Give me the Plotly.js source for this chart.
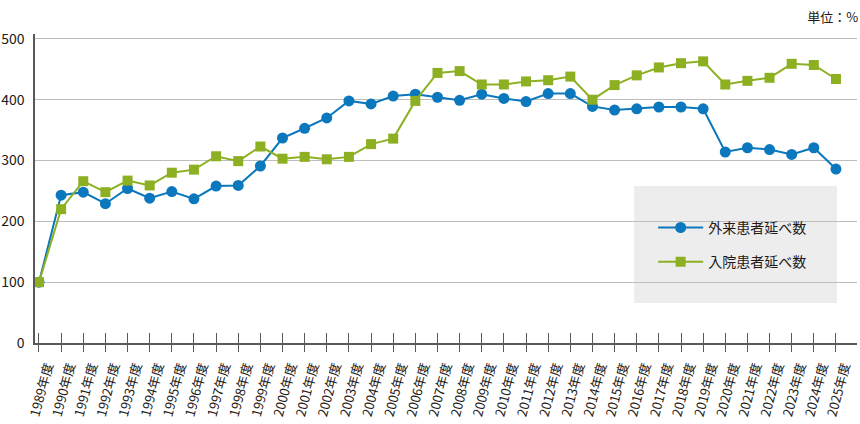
<!DOCTYPE html>
<html>
<head>
<meta charset="utf-8">
<script src="https://cdn.plot.ly/plotly-3.0.1.min.js"></script>
<style>
  html, body { margin: 0; padding: 0; background: #fff; }
  #chart { width: 860px; height: 424px; }
</style>
</head>
<body>
<div id="chart"></div>
<script>
// 年度（1989年度 = 100）
const years = [
  '1989年度', '1990年度', '1991年度', '1992年度', '1993年度', '1994年度',
  '1995年度', '1996年度', '1997年度', '1998年度', '1999年度', '2000年度',
  '2001年度', '2002年度', '2003年度', '2004年度', '2005年度', '2006年度',
  '2007年度', '2008年度', '2009年度', '2010年度', '2011年度', '2012年度',
  '2013年度', '2014年度', '2015年度', '2016年度', '2017年度', '2018年度',
  '2019年度', '2020年度', '2021年度', '2022年度', '2023年度', '2024年度',
  '2025年度',
];

// 外来患者延べ数
const outpatient = [
  100, 243, 248, 229, 254, 238, 249, 237, 258, 259, 291, 337,
  353, 370, 398, 393, 406, 409, 404, 399, 409, 402, 397, 410,
  410, 389, 383, 385, 388, 388, 385, 314, 321, 318, 310, 321,
  286,
];

// 入院患者延べ数
const inpatient = [
  100, 220, 266, 248, 267, 259, 280, 285, 307, 299, 323, 303,
  306, 302, 306, 327, 336, 398, 444, 447, 425, 425, 430, 432,
  438, 400, 424, 440, 453, 460, 463, 425, 431, 436, 459, 457,
  434,
];

const yTicks = [0, 100, 200, 300, 400, 500];

const BLUE  = '#0b78bd';
const GREEN = '#8cb021';
const TEXT  = '#231815';
const AXIS  = '#595757';
const FONT  = '"Noto Sans CJK JP", "Noto Sans", sans-serif';

const traces = [
  {
    x: years, y: outpatient,
    name: '外来患者延べ数',
    type: 'scatter', mode: 'lines+markers',
    line:   { color: BLUE, width: 2 },
    marker: { color: BLUE, size: 11, symbol: 'circle' },
    legend: 'legend',
  },
  {
    // 重ねた x2 軸に載せる（軸線の上側の目盛り用）
    x: years, y: inpatient, xaxis: 'x2',
    name: '入院患者延べ数',
    type: 'scatter', mode: 'lines+markers',
    line:   { color: GREEN, width: 2 },
    marker: { color: GREEN, size: 10, symbol: 'square' },
    legend: 'legend2',
  },
];

const xRange = [-0.18, 36.95];

const legendBase = {
  x: 0.752, xanchor: 'left', yanchor: 'middle',
  bgcolor: 'rgba(0,0,0,0)', borderwidth: 0,
  itemwidth: 45,
  font: { family: FONT, size: 14, color: TEXT },
};

const layout = {
  width: 860, height: 424,
  paper_bgcolor: '#fff', plot_bgcolor: '#fff',
  margin: { t: 34, b: 81, l: 35, r: 3 },
  font: { family: FONT, color: TEXT },
  title: {
    text: '単位：%',
    x: 0.998, xanchor: 'right', xref: 'container',
    y: 0.958, yanchor: 'middle', yref: 'container',
    font: { family: FONT, size: 13, color: TEXT },
  },
  xaxis: {
    type: 'category', range: xRange,
    showgrid: false, zeroline: false,
    showline: true, linecolor: AXIS, linewidth: 1.5,
    ticks: 'outside', ticklen: 7, tickcolor: AXIS, tickwidth: 1,
    tickangle: -75, ticklabelshift: 8, ticklabelstandoff: 2,
    tickfont: { family: FONT, size: 13, color: TEXT },
  },
  xaxis2: {
    type: 'category', overlaying: 'x', anchor: 'y', side: 'bottom',
    range: xRange,
    showgrid: false, zeroline: false, showline: false,
    ticks: 'inside', ticklen: 10, tickcolor: AXIS, tickwidth: 1,
    showticklabels: false,
  },
  yaxis: {
    range: [0, 508], tickvals: yTicks,
    showgrid: true, gridcolor: '#bdbdbd', gridwidth: 1.2,
    zeroline: false,
    showline: true, linecolor: AXIS, linewidth: 1.5,
    ticks: '', ticklabelstandoff: 6,
    tickfont: { family: FONT, size: 14, color: TEXT },
  },
  shapes: [{
    type: 'rect', xref: 'paper', yref: 'paper', layer: 'between',
    x0: 0.7287, x1: 0.9757, y0: 0.1294, y1: 0.508,
    fillcolor: '#ededed', line: { width: 0 },
  }],
  legend:  { ...legendBase, y: 0.3725 },
  legend2: { ...legendBase, y: 0.262 },
  showlegend: true,
};

Plotly.newPlot('chart', traces, layout, { displayModeBar: false, responsive: false });
</script>
</body>
</html>
